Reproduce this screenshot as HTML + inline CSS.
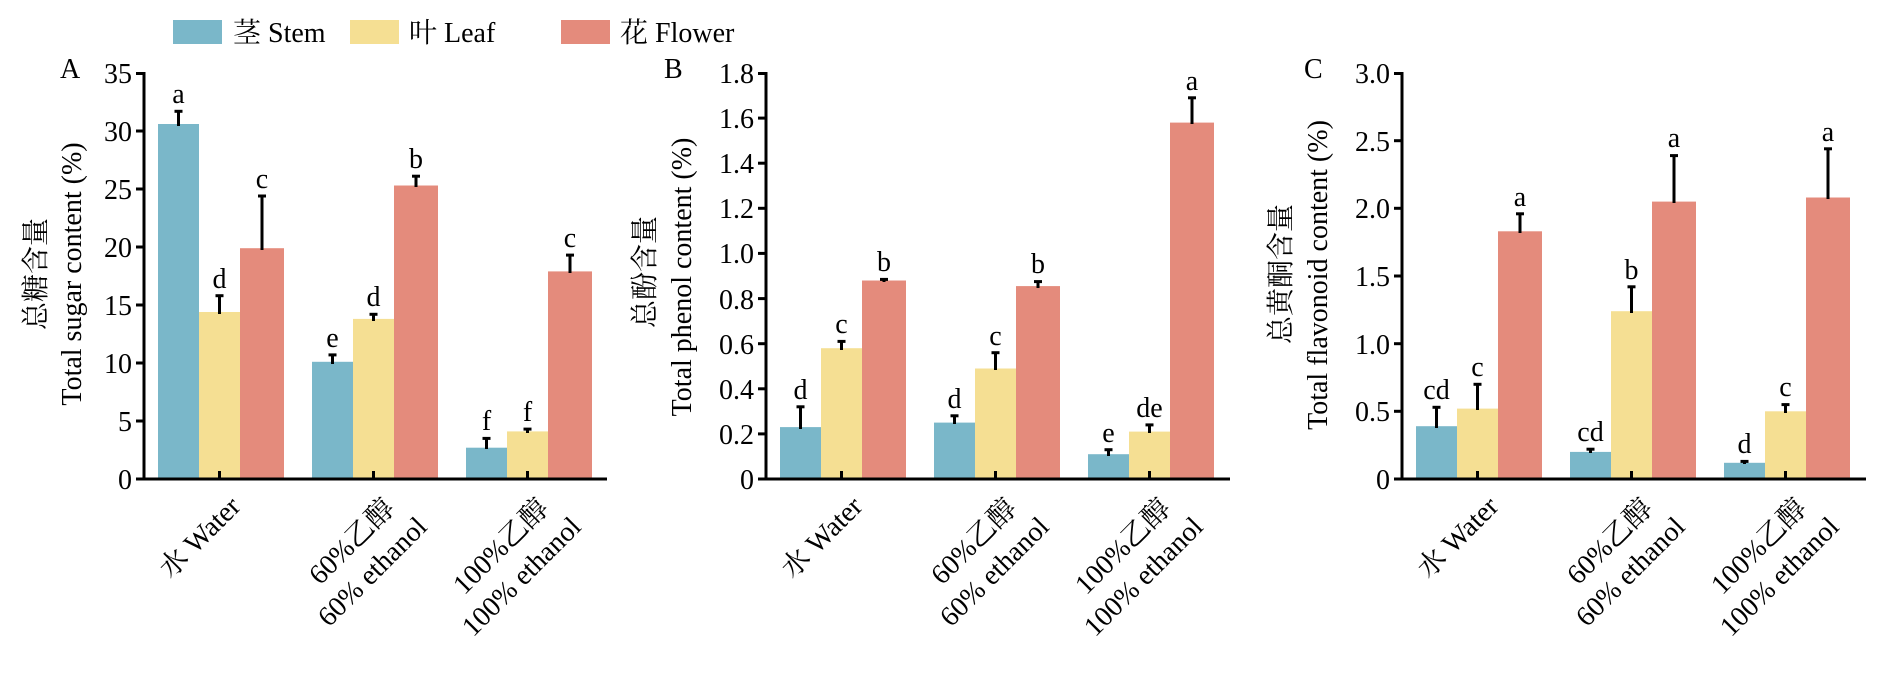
<!DOCTYPE html>
<html><head><meta charset="utf-8"><style>
html,body{margin:0;padding:0;background:#fff;}
svg{display:block;}
svg text{font-family:"Liberation Serif","Times New Roman","Noto Serif CJK SC","DejaVu Serif",serif;font-size:28px;fill:#000;}
.st{fill:#7ab7c9}.lf{fill:#f5df93}.fl{fill:#e48b7c}
.ax{stroke:#000;stroke-width:3;fill:none}
.eb{stroke:#000;stroke-width:3}
</style></head><body>
<svg width="1882" height="682" viewBox="0 0 1882 682" xmlns="http://www.w3.org/2000/svg" font-family="'Liberation Serif','Times New Roman','Noto Serif CJK SC',serif">
<rect class="st" x="173" y="20" width="49" height="24"/><text x="233" y="42">茎 Stem</text>
<rect class="lf" x="350" y="20" width="49" height="24"/><text x="409" y="42">叶 Leaf</text>
<rect class="fl" x="561" y="20" width="49" height="24"/><text x="620" y="42">花 Flower</text>

<!-- ================= Panel A ================= -->
<text x="60" y="78">A</text>
<text transform="translate(45,274) rotate(-90)" text-anchor="middle">总糖含量</text>
<text transform="translate(81,274) rotate(-90)" text-anchor="middle">Total sugar content (%)</text>
<g text-anchor="end">
<text x="132" y="489">0</text><text x="132" y="431">5</text><text x="132" y="373">10</text><text x="132" y="315">15</text>
<text x="132" y="257">20</text><text x="132" y="199">25</text><text x="132" y="141">30</text><text x="132" y="83">35</text>
</g>
<rect class="st" x="158" y="124" width="41" height="355"/>
<rect class="lf" x="199" y="312" width="41" height="167"/>
<rect class="fl" x="240" y="248.2" width="44" height="230.8"/>
<rect class="st" x="312" y="361.8" width="41" height="117.2"/>
<rect class="lf" x="353" y="318.9" width="41" height="160.1"/>
<rect class="fl" x="394" y="185.5" width="44" height="293.5"/>
<rect class="st" x="466" y="447.7" width="41" height="31.3"/>
<rect class="lf" x="507" y="431.4" width="41" height="47.6"/>
<rect class="fl" x="548" y="271.4" width="44" height="207.6"/>
<g class="eb">
<line x1="178.5" y1="126" x2="178.5" y2="111.3"/><line x1="174.5" y1="111.3" x2="182.5" y2="111.3"/>
<line x1="219.5" y1="314" x2="219.5" y2="295.7"/><line x1="215.5" y1="295.7" x2="223.5" y2="295.7"/>
<line x1="262" y1="250" x2="262" y2="196"/><line x1="258" y1="196" x2="266" y2="196"/>
<line x1="332.5" y1="364" x2="332.5" y2="354.9"/><line x1="328.5" y1="354.9" x2="336.5" y2="354.9"/>
<line x1="373.5" y1="321" x2="373.5" y2="314.3"/><line x1="369.5" y1="314.3" x2="377.5" y2="314.3"/>
<line x1="416" y1="187" x2="416" y2="176.2"/><line x1="412" y1="176.2" x2="420" y2="176.2"/>
<line x1="486.5" y1="449" x2="486.5" y2="438.4"/><line x1="482.5" y1="438.4" x2="490.5" y2="438.4"/>
<line x1="527.5" y1="433" x2="527.5" y2="429.1"/><line x1="523.5" y1="429.1" x2="531.5" y2="429.1"/>
<line x1="570" y1="273" x2="570" y2="255.1"/><line x1="566" y1="255.1" x2="574" y2="255.1"/>
</g>
<g text-anchor="middle">
<text x="178.5" y="103">a</text><text x="219.5" y="288">d</text><text x="262" y="188">c</text>
<text x="332.5" y="347">e</text><text x="373.5" y="306">d</text><text x="416" y="168">b</text>
<text x="486.5" y="430">f</text><text x="527.5" y="421">f</text><text x="570" y="247">c</text>
</g>
<path class="ax" d="M144,72 V479 H607"/>
<g class="ax">
<line x1="136" y1="479" x2="144" y2="479"/><line x1="136" y1="421" x2="144" y2="421"/><line x1="136" y1="363" x2="144" y2="363"/>
<line x1="136" y1="305" x2="144" y2="305"/><line x1="136" y1="247" x2="144" y2="247"/><line x1="136" y1="189" x2="144" y2="189"/>
<line x1="136" y1="131" x2="144" y2="131"/><line x1="136" y1="73.5" x2="144" y2="73.5"/>
<line x1="219.5" y1="479" x2="219.5" y2="471"/><line x1="373.5" y1="479" x2="373.5" y2="471"/><line x1="527.5" y1="479" x2="527.5" y2="471"/>
</g>
<g text-anchor="end">
<text transform="translate(242,508) rotate(-45)">水 Water</text>
<text transform="translate(396,510) rotate(-45)"><tspan x="0" y="0">60%乙醇</tspan><tspan x="10" dy="36">60% ethanol</tspan></text>
<text transform="translate(550,510) rotate(-45)"><tspan x="0" y="0">100%乙醇</tspan><tspan x="10" dy="36">100% ethanol</tspan></text>
</g>

<!-- ================= Panel B ================= -->
<text x="664" y="78">B</text>
<text transform="translate(654,272) rotate(-90)" text-anchor="middle">总酚含量</text>
<text transform="translate(691,277) rotate(-90)" text-anchor="middle">Total phenol content (%)</text>
<g text-anchor="end">
<text x="754" y="489">0</text><text x="754" y="444">0.2</text><text x="754" y="399">0.4</text><text x="754" y="354">0.6</text>
<text x="754" y="309">0.8</text><text x="754" y="263">1.0</text><text x="754" y="218">1.2</text><text x="754" y="173">1.4</text>
<text x="754" y="128">1.6</text><text x="754" y="83">1.8</text>
</g>
<rect class="st" x="780" y="427.1" width="41" height="51.9"/>
<rect class="lf" x="821" y="348.2" width="41" height="130.8"/>
<rect class="fl" x="862" y="280.5" width="44" height="198.5"/>
<rect class="st" x="934" y="422.6" width="41" height="56.4"/>
<rect class="lf" x="975" y="368.5" width="41" height="110.5"/>
<rect class="fl" x="1016" y="286.1" width="44" height="192.9"/>
<rect class="st" x="1088" y="454.2" width="41" height="24.8"/>
<rect class="lf" x="1129" y="431.6" width="41" height="47.4"/>
<rect class="fl" x="1170" y="122.6" width="44" height="356.4"/>
<g class="eb">
<line x1="800.5" y1="429" x2="800.5" y2="406.8"/><line x1="796.5" y1="406.8" x2="804.5" y2="406.8"/>
<line x1="841.5" y1="350" x2="841.5" y2="341.4"/><line x1="837.5" y1="341.4" x2="845.5" y2="341.4"/>
<line x1="884" y1="282" x2="884" y2="279.4"/><line x1="880" y1="279.4" x2="888" y2="279.4"/>
<line x1="954.5" y1="424" x2="954.5" y2="415.8"/><line x1="950.5" y1="415.8" x2="958.5" y2="415.8"/>
<line x1="995.5" y1="370" x2="995.5" y2="352.7"/><line x1="991.5" y1="352.7" x2="999.5" y2="352.7"/>
<line x1="1038" y1="288" x2="1038" y2="281.6"/><line x1="1034" y1="281.6" x2="1042" y2="281.6"/>
<line x1="1108.5" y1="456" x2="1108.5" y2="449.7"/><line x1="1104.5" y1="449.7" x2="1112.5" y2="449.7"/>
<line x1="1149.5" y1="433" x2="1149.5" y2="424.9"/><line x1="1145.5" y1="424.9" x2="1153.5" y2="424.9"/>
<line x1="1192" y1="124" x2="1192" y2="97.8"/><line x1="1188" y1="97.8" x2="1196" y2="97.8"/>
</g>
<g text-anchor="middle">
<text x="800.5" y="399">d</text><text x="841.5" y="333">c</text><text x="884" y="271">b</text>
<text x="954.5" y="408">d</text><text x="995.5" y="345">c</text><text x="1038" y="273">b</text>
<text x="1108.5" y="442">e</text><text x="1149.5" y="417">de</text><text x="1192" y="90">a</text>
</g>
<path class="ax" d="M766,72 V479 H1230"/>
<g class="ax">
<line x1="758" y1="479" x2="766" y2="479"/><line x1="758" y1="433.9" x2="766" y2="433.9"/><line x1="758" y1="388.8" x2="766" y2="388.8"/>
<line x1="758" y1="343.7" x2="766" y2="343.7"/><line x1="758" y1="298.6" x2="766" y2="298.6"/><line x1="758" y1="253.4" x2="766" y2="253.4"/>
<line x1="758" y1="208.3" x2="766" y2="208.3"/><line x1="758" y1="163.2" x2="766" y2="163.2"/><line x1="758" y1="118.1" x2="766" y2="118.1"/>
<line x1="758" y1="73.5" x2="766" y2="73.5"/>
<line x1="841.5" y1="479" x2="841.5" y2="471"/><line x1="995.5" y1="479" x2="995.5" y2="471"/><line x1="1149.5" y1="479" x2="1149.5" y2="471"/>
</g>
<g text-anchor="end">
<text transform="translate(864,508) rotate(-45)">水 Water</text>
<text transform="translate(1018,510) rotate(-45)"><tspan x="0" y="0">60%乙醇</tspan><tspan x="10" dy="36">60% ethanol</tspan></text>
<text transform="translate(1172,510) rotate(-45)"><tspan x="0" y="0">100%乙醇</tspan><tspan x="10" dy="36">100% ethanol</tspan></text>
</g>

<!-- ================= Panel C ================= -->
<text x="1304" y="78">C</text>
<text transform="translate(1290,274) rotate(-90)" text-anchor="middle">总黄酮含量</text>
<text transform="translate(1327,275) rotate(-90)" text-anchor="middle">Total flavonoid content (%)</text>
<g text-anchor="end">
<text x="1390" y="489">0</text><text x="1390" y="421">0.5</text><text x="1390" y="354">1.0</text><text x="1390" y="286">1.5</text>
<text x="1390" y="218">2.0</text><text x="1390" y="151">2.5</text><text x="1390" y="83">3.0</text>
</g>
<rect class="st" x="1416" y="426.2" width="41" height="52.8"/>
<rect class="lf" x="1457" y="408.6" width="41" height="70.4"/>
<rect class="fl" x="1498" y="231.3" width="44" height="247.7"/>
<rect class="st" x="1570" y="451.9" width="41" height="27.1"/>
<rect class="lf" x="1611" y="311.2" width="41" height="167.8"/>
<rect class="fl" x="1652" y="201.6" width="44" height="277.4"/>
<rect class="st" x="1724" y="462.8" width="41" height="16.2"/>
<rect class="lf" x="1765" y="411.3" width="41" height="67.7"/>
<rect class="fl" x="1806" y="197.5" width="44" height="281.5"/>
<g class="eb">
<line x1="1436.5" y1="428" x2="1436.5" y2="407.3"/><line x1="1432.5" y1="407.3" x2="1440.5" y2="407.3"/>
<line x1="1477.5" y1="410" x2="1477.5" y2="384.3"/><line x1="1473.5" y1="384.3" x2="1481.5" y2="384.3"/>
<line x1="1520" y1="233" x2="1520" y2="213.8"/><line x1="1516" y1="213.8" x2="1524" y2="213.8"/>
<line x1="1590.5" y1="453" x2="1590.5" y2="449.2"/><line x1="1586.5" y1="449.2" x2="1594.5" y2="449.2"/>
<line x1="1631.5" y1="313" x2="1631.5" y2="286.8"/><line x1="1627.5" y1="286.8" x2="1635.5" y2="286.8"/>
<line x1="1674" y1="203" x2="1674" y2="155.6"/><line x1="1670" y1="155.6" x2="1678" y2="155.6"/>
<line x1="1744.5" y1="464" x2="1744.5" y2="461.4"/><line x1="1740.5" y1="461.4" x2="1748.5" y2="461.4"/>
<line x1="1785.5" y1="413" x2="1785.5" y2="404.6"/><line x1="1781.5" y1="404.6" x2="1789.5" y2="404.6"/>
<line x1="1828" y1="199" x2="1828" y2="148.8"/><line x1="1824" y1="148.8" x2="1832" y2="148.8"/>
</g>
<g text-anchor="middle">
<text x="1436.5" y="399">cd</text><text x="1477.5" y="376">c</text><text x="1520" y="206">a</text>
<text x="1590.5" y="441">cd</text><text x="1631.5" y="279">b</text><text x="1674" y="147">a</text>
<text x="1744.5" y="453">d</text><text x="1785.5" y="396">c</text><text x="1828" y="141">a</text>
</g>
<path class="ax" d="M1402,72 V479 H1866"/>
<g class="ax">
<line x1="1394" y1="479" x2="1402" y2="479"/><line x1="1394" y1="411.3" x2="1402" y2="411.3"/><line x1="1394" y1="343.7" x2="1402" y2="343.7"/>
<line x1="1394" y1="276" x2="1402" y2="276"/><line x1="1394" y1="208.3" x2="1402" y2="208.3"/><line x1="1394" y1="140.7" x2="1402" y2="140.7"/>
<line x1="1394" y1="73.5" x2="1402" y2="73.5"/>
<line x1="1477.5" y1="479" x2="1477.5" y2="471"/><line x1="1631.5" y1="479" x2="1631.5" y2="471"/><line x1="1785.5" y1="479" x2="1785.5" y2="471"/>
</g>
<g text-anchor="end">
<text transform="translate(1500,508) rotate(-45)">水 Water</text>
<text transform="translate(1654,510) rotate(-45)"><tspan x="0" y="0">60%乙醇</tspan><tspan x="10" dy="36">60% ethanol</tspan></text>
<text transform="translate(1808,510) rotate(-45)"><tspan x="0" y="0">100%乙醇</tspan><tspan x="10" dy="36">100% ethanol</tspan></text>
</g>
</svg>
</body></html>
